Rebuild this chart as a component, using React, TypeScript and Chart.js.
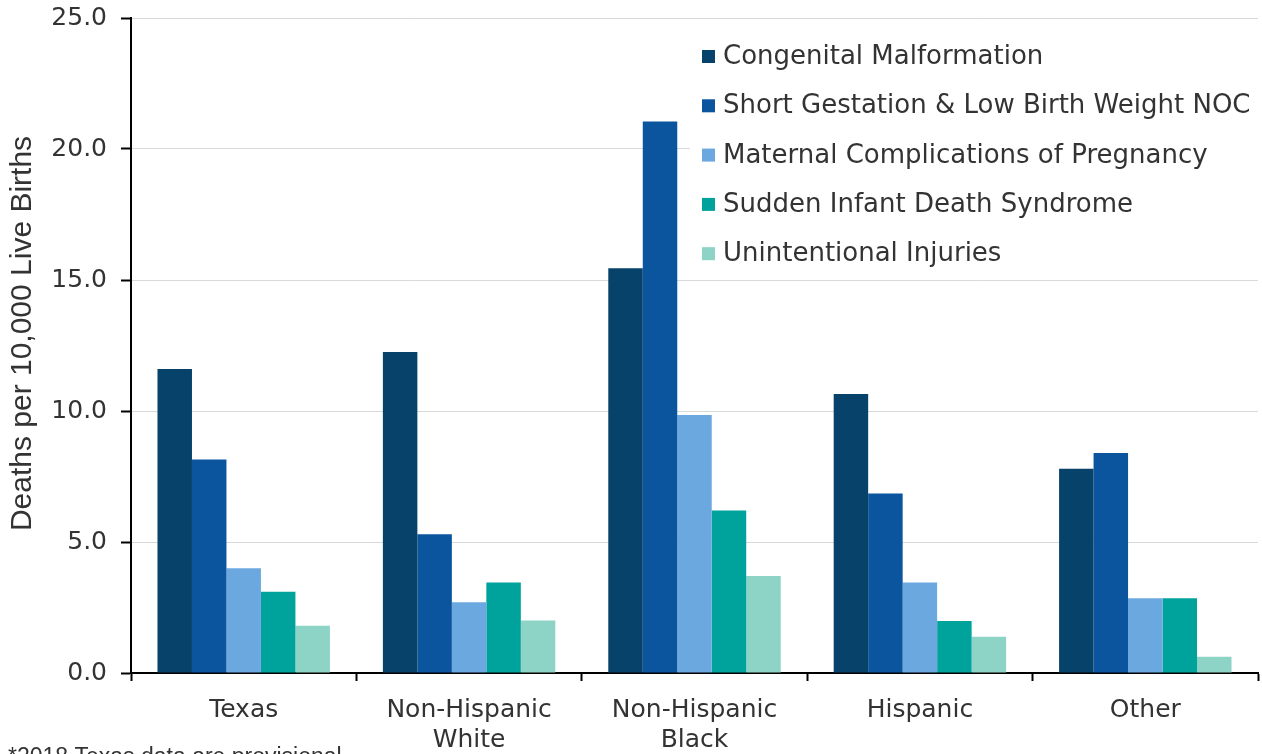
import React, { useEffect, useRef } from "react";
import { Chart, registerables } from "chart.js";

Chart.register(...registerables);

// ---- Data ----
const categories: (string | string[])[] = [
  "Texas",
  ["Non-Hispanic", "White"],
  ["Non-Hispanic", "Black"],
  "Hispanic",
  "Other",
];
const seriesNames = [
  "Congenital Malformation",
  "Short Gestation & Low Birth Weight NOC",
  "Maternal Complications of Pregnancy",
  "Sudden Infant Death Syndrome",
  "Unintentional Injuries",
];
const congenital = [11.6, 12.25, 15.45, 10.65, 7.8];
const shortGestation = [8.15, 5.3, 21.05, 6.85, 8.4];
const maternal = [4.0, 2.7, 9.85, 3.45, 2.85];
const sids = [3.1, 3.45, 6.2, 1.98, 2.85];
const injuries = [1.8, 2.0, 3.7, 1.38, 0.62];
const seriesColors = ["#07426A", "#0A559E", "#6CA8E0", "#00A39B", "#8DD3C6"];
const yTicks = [0, 5, 10, 15, 20, 25];
const yTitle = "Deaths per 10,000 Live Births";
const footnote = "*2018 Texas data are provisional.";

const TEXT = "#333333";
const VERDANA = "'DejaVu Sans', Verdana, sans-serif";
const ARIAL = "'Liberation Sans', Arial, sans-serif";

const overlayPlugin = {
  id: "overlay",
  afterDraw(chart: any) {
    const ctx = chart.ctx as CanvasRenderingContext2D;
    ctx.save();
    // Legend box background (covers gridlines)
    ctx.fillStyle = "#ffffff";
    ctx.fillRect(690, 30, 572, 240);
    // Legend (inside plot, top-right)
    ctx.font = `26px ${VERDANA}`;
    ctx.textAlign = "left";
    ctx.textBaseline = "alphabetic";
    chart.data.datasets.forEach((ds: any, i: number) => {
      const y0 = 50 + i * 49.3;
      ctx.fillStyle = ds.backgroundColor;
      ctx.fillRect(702, y0, 13, 13);
      ctx.fillStyle = TEXT;
      ctx.fillText(ds.label, 723, y0 + 14);
    });
    // Y-axis title
    ctx.save();
    ctx.translate(23, 333.5);
    ctx.rotate(-Math.PI / 2);
    ctx.font = `30px ${ARIAL}`;
    ctx.fillStyle = TEXT;
    ctx.textAlign = "center";
    ctx.textBaseline = "middle";
    ctx.fillText(yTitle, 0, 0);
    ctx.restore();
    // Footnote (partially cut at bottom)
    ctx.font = `23px ${ARIAL}`;
    ctx.fillStyle = TEXT;
    ctx.textAlign = "left";
    ctx.textBaseline = "top";
    ctx.fillText(footnote, 8, 746);
    ctx.restore();
  },
};

export default function App() {
  const ref = useRef<HTMLCanvasElement | null>(null);

  useEffect(() => {
    if (!ref.current) return;
    const seriesValues = [congenital, shortGestation, maternal, sids, injuries];
    const chart = new Chart(ref.current, {
      type: "bar",
      data: {
        labels: categories,
        datasets: seriesNames.map((name, i) => ({
          label: name,
          data: seriesValues[i],
          backgroundColor: seriesColors[i],
          borderWidth: 0,
          categoryPercentage: 0.765,
          barPercentage: 1.0,
        })),
      },
      options: {
        responsive: false,
        animation: false,
        devicePixelRatio: 1,
        layout: { padding: { top: 18, right: 4, bottom: 0, left: 0 } },
        plugins: {
          legend: { display: false },
          tooltip: { enabled: false },
          title: { display: false },
        },
        scales: {
          x: {
            grid: {
              display: true,
              drawOnChartArea: false,
              drawTicks: true,
              tickLength: 8,
              tickColor: "#000",
              tickWidth: 2,
              offset: true,
            },
            border: { display: true, color: "#000", width: 2 },
            ticks: {
              font: { family: VERDANA, size: 25, lineHeight: 1.2 },
              color: TEXT,
              padding: 14,
              maxRotation: 0,
              autoSkip: false,
            },
            afterFit: (s: any) => {
              s.height = 81;
            },
          },
          y: {
            min: 0,
            max: 25,
            afterBuildTicks: (s: any) => {
              s.ticks = yTicks.map((v) => ({ value: v }));
            },
            ticks: {
              font: { family: VERDANA, size: 25 },
              color: TEXT,
              padding: 14,
              callback: (v: any) => Number(v).toFixed(1),
            },
            grid: {
              color: "#d9d9d9",
              lineWidth: 1,
              tickLength: 10,
              tickColor: "#000",
              tickWidth: 2,
            },
            border: { display: true, color: "#000", width: 2 },
            afterFit: (s: any) => {
              s.width = 131;
              s.paddingTop = 0;
              s.paddingBottom = 0;
            },
          },
        },
      },
      plugins: [overlayPlugin],
    });
    return () => chart.destroy();
  }, []);

  return (
    <div style={{ position: "absolute", left: 0, top: 0, width: 1262, height: 754, background: "#fff" }}>
      <canvas ref={ref} width={1262} height={754} style={{ display: "block" }} />
    </div>
  );
}
